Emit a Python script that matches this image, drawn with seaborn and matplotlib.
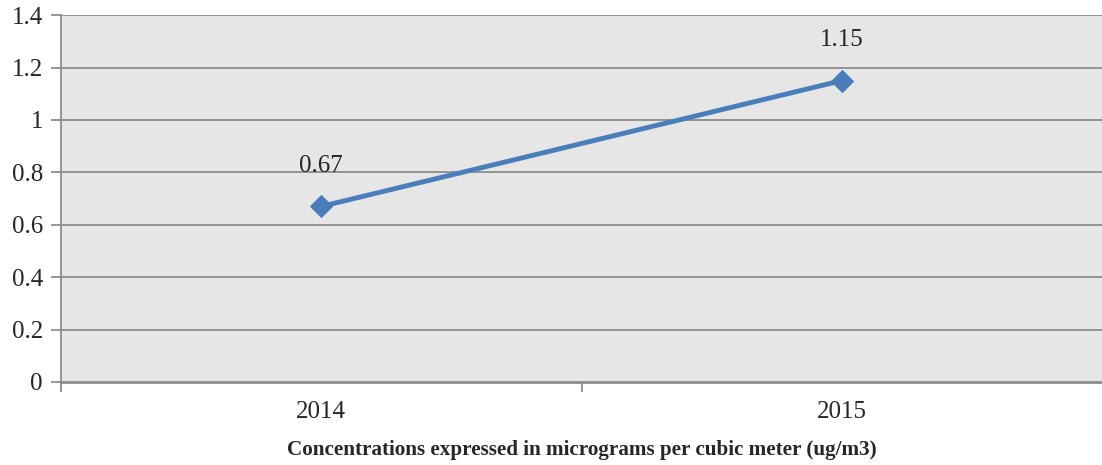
import numpy as np
import pandas as pd
import matplotlib.pyplot as plt
import seaborn as sns

# данные
years = ["2014", "2015"]
values = [0.67, 1.15]
yticks = [0, 0.2, 0.4, 0.6, 0.8, 1, 1.2, 1.4]

sns.set_style("white")
plt.rcParams['font.family'] = ['Liberation Serif', 'DejaVu Serif']

df = pd.DataFrame({"year": years, "value": values})

fig = plt.figure(figsize=(11.02, 4.65), dpi=100)
ax = fig.add_axes([0.0554, 0.1785, 0.9446, 0.789])
ax.set_facecolor("#e6e6e6")

grid_color = "#8c8c8c"
for y in yticks[1:]:
    ax.axhline(y, color=grid_color, lw=1.3, zorder=1)

sns.lineplot(data=df, x="year", y="value", ax=ax, color="#4a7ebb", lw=3.5,
             marker="D", markersize=11.5, markeredgecolor="#4a7ebb", zorder=3)

for i, v in enumerate(values):
    ax.annotate(f"{v:g}", (i, v), xytext=(0, 21), textcoords="offset points",
                ha="center", va="bottom", fontsize=18)

ax.set_xlim(-0.5, 1.5)
ax.set_ylim(0, 1.4)
ax.set_yticks(yticks)
ax.set_yticklabels([f"{t:g}" for t in yticks], fontsize=18)
ax.set_xticks([0, 1])
ax.set_xticklabels(years, fontsize=18)
# деления на границах категорий
ax.set_xticks([-0.5, 0.5], minor=True)
ax.tick_params(axis="x", which="major", bottom=False, length=0, pad=14)
ax.tick_params(axis="x", which="minor", bottom=True, length=7, width=1.3,
               color=grid_color)
ax.tick_params(axis="y", left=True, length=7, width=1.3, color=grid_color, pad=6)

for s in ["top", "right"]:
    ax.spines[s].set_visible(False)
ax.spines["left"].set_color(grid_color)
ax.spines["left"].set_linewidth(1.3)
ax.spines["bottom"].set_color(grid_color)
ax.spines["bottom"].set_linewidth(2)

ax.set_xlabel("Concentrations expressed in micrograms per cubic meter (ug/m3)",
              fontsize=15.2, fontweight="bold", labelpad=12)
ax.set_ylabel("")

fig.savefig("out.png", dpi=100)
